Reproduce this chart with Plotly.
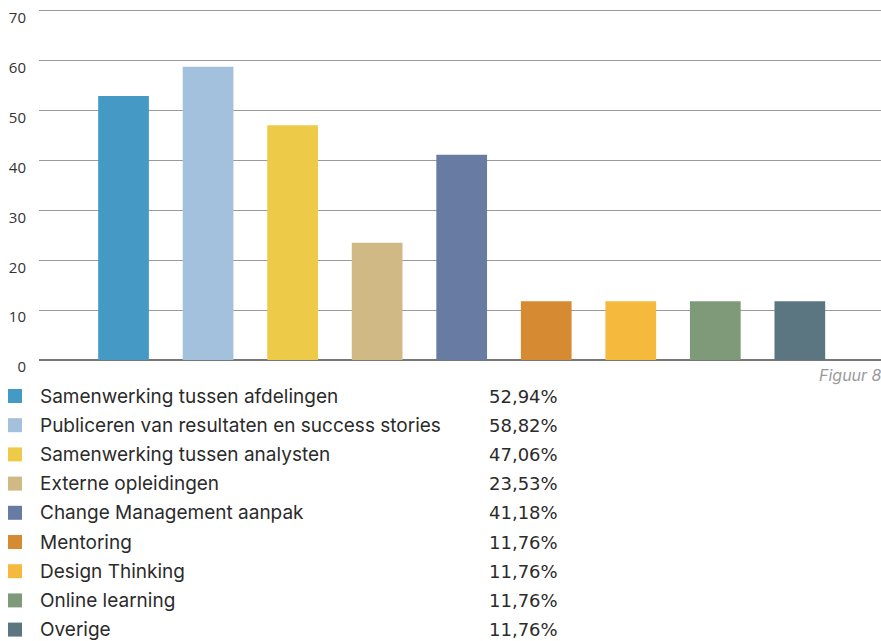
import plotly.graph_objects as go

# Survey answers: share of respondents per option (percent)
categories = [
    "Samenwerking tussen afdelingen",
    "Publiceren van resultaten en success stories",
    "Samenwerking tussen analysten",
    "Externe opleidingen",
    "Change Management aanpak",
    "Mentoring",
    "Design Thinking",
    "Online learning",
    "Overige",
]
values = [52.94, 58.82, 47.06, 23.53, 41.18, 11.76, 11.76, 11.76, 11.76]
colors = ["#449AC5", "#A3C1DD", "#EDCB48", "#D0B985", "#687BA2",
          "#D68A32", "#F5B93E", "#7F9A79", "#5B7680"]
y_ticks = [0, 10, 20, 30, 40, 50, 60, 70]
caption = "Figuur 8"

W, H = 881, 641
Y_TOP = 70.4
L, R, B = 39, 0, 281
T = 9
plot_w = W - L - R
plot_h = H - T - B


def px_to_paper(px, py):
    return (px - L) / plot_w, (H - B - py) / plot_h


fig = go.Figure()
fig.add_trace(go.Bar(
    x=list(range(len(categories))),
    y=values,
    marker=dict(color=colors, line=dict(width=0)),
    width=0.6,
    hoverinfo="skip",
    showlegend=False,
))

annotations = []
shapes = []

# Legend drawn row by row: swatch, label and percentage
row_y0 = 396
row_gap = 29.2
for i, (name, val, col) in enumerate(zip(categories, values, colors)):
    cy = row_y0 + i * row_gap
    x0, y0 = px_to_paper(8, cy - 7)
    x1, y1 = px_to_paper(22, cy + 7)
    shapes.append(dict(type="rect", xref="paper", yref="paper",
                       x0=x0, x1=x1, y0=y1, y1=y0,
                       fillcolor=col, line=dict(width=0), layer="above"))
    tx, ty = px_to_paper(38, cy)
    annotations.append(dict(xref="paper", yref="paper", x=tx, y=ty,
                            xanchor="left", yanchor="middle", showarrow=False,
                            text=name,
                            font=dict(family="Inter", size=19, color="#2b2b2b")))
    vx, vy = px_to_paper(487, cy)
    annotations.append(dict(xref="paper", yref="paper", x=vx, y=vy,
                            xanchor="left", yanchor="middle", showarrow=False,
                            text=f"{val:.2f}%".replace(".", ","),
                            font=dict(family="DejaVu Sans", size=18, color="#2b2b2b")))

cx, cy = px_to_paper(817, 375)
annotations.append(dict(xref="paper", yref="paper", x=cx, y=cy,
                        xanchor="left", yanchor="middle", showarrow=False,
                        text=f"<i>{caption}</i>",
                        font=dict(family="Inter", size=16, color="#9a9a9a")))

fig.update_layout(
    width=W, height=H,
    margin=dict(l=L, r=R, t=T, b=B, pad=0, autoexpand=False),
    paper_bgcolor="white", plot_bgcolor="white",
    xaxis=dict(range=[-1, 8.96], showticklabels=False, showgrid=False,
               zeroline=False, showline=False, fixedrange=True,
               automargin=False),
    yaxis=dict(range=[0, Y_TOP], tickvals=y_ticks,
               ticktext=[str(v) for v in y_ticks],
               showgrid=True, gridcolor="#9a9a9a", gridwidth=1,
               zeroline=True, zerolinecolor="#777777", zerolinewidth=1.5,
               showline=False, ticks="", automargin=False,
               ticklabelstandoff=12, ticklabelshift=7,
               ticklabeloverflow="allow",
               tickfont=dict(family="Open Sans", size=15, color="#333333")),
    shapes=shapes,
    annotations=annotations,
)

fig.write_html("out.html")
